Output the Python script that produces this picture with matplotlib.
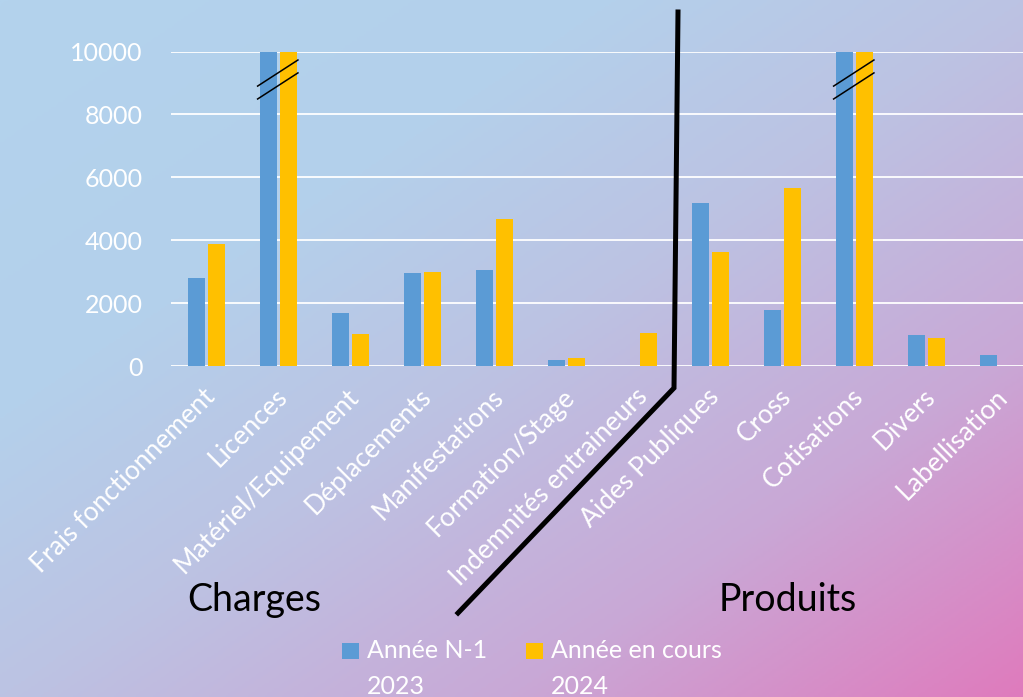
import numpy as np
import matplotlib
matplotlib.use("Agg")
import matplotlib.pyplot as plt
import matplotlib.transforms as mtransforms
from matplotlib.colors import LinearSegmentedColormap
from matplotlib.lines import Line2D
from matplotlib.patches import Rectangle

plt.rcParams['font.family'] = ['Lato', 'DejaVu Sans']

categories = ["Frais fonctionnement", "Licences", "Matériel/Equipement", "Déplacements",
              "Manifestations", "Formation/Stage", "Indemnités entraineurs",
              "Aides Publiques", "Cross", "Cotisations", "Divers", "Labellisation"]
annee_n1 = [2800, 10000, 1670, 2950, 3040, 190, 0, 5190, 1780, 10000, 975, 340]
annee_cours = [3870, 10000, 1020, 3000, 4680, 265, 1060, 3630, 5670, 10000, 890, 0]
yticks = [0, 2000, 4000, 6000, 8000, 10000]
broken = [1, 9]  # bars cut at the top of the axis

fig = plt.figure(figsize=(10.23, 6.97), dpi=100)

# gradient background
bg = fig.add_axes([0, 0, 1, 1], zorder=-10)
bg.axis("off")
H, W = 300, 440
yy, xx = np.mgrid[0:H, 0:W]
t = 0.5 * xx / (W - 1) + 0.5 * yy / (H - 1)
cmap = LinearSegmentedColormap.from_list(
    "bg", [(0, "#b3d3ed"), (0.3, "#b4d0eb"), (0.5, "#bcc3e3"),
           (0.75, "#c9a8d6"), (1.0, "#df7bbd")])
bg.imshow(t, cmap=cmap, aspect="auto", extent=[0, 1, 0, 1], vmin=0, vmax=1)
bg.set_xlim(0, 1)
bg.set_ylim(0, 1)

# main axes (right edge runs past the figure, as in the source)
ax = fig.add_axes([170.5 / 1023, (697 - 366) / 697, 864 / 1023, 314.5 / 697])
ax.patch.set_alpha(0)
x = np.arange(len(categories))
w = 0.24
ax.bar(x - 0.143, annee_n1, w, color="#5b9bd5", zorder=3)
ax.bar(x + 0.143, annee_cours, w, color="#ffc000", zorder=3)

ax.set_xlim(-0.5, len(categories) - 0.5)
ax.set_ylim(0, 10000)
ax.set_yticks(yticks)
ax.set_yticklabels([str(v) for v in yticks], color="white", fontsize=18)
ax.yaxis.grid(True, color="white", lw=1.3, zorder=0)
ax.set_xticks(x)
ax.set_xticklabels(categories, rotation=45, ha="right", rotation_mode="anchor",
                   color="white", fontsize=19)
ax.tick_params(axis="both", length=0)
ax.tick_params(axis="x", pad=13)
ax.tick_params(axis="y", pad=20)
shift = mtransforms.ScaledTranslation(-4 / 100, 0, fig.dpi_scale_trans)
for lab in ax.get_xticklabels():
    lab.set_transform(lab.get_transform() + shift)
for s in ax.spines.values():
    s.set_visible(False)

# break marks on the cut bars
for b in broken:
    for y0, y1 in [(8900, 9730), (8490, 9320)]:
        ax.plot([b - 0.29, b + 0.27], [y0, y1], color="black", lw=1.1, zorder=5,
                clip_on=False)

# separator line between Charges and Produits
px = lambda X, Y: (X / 1023, 1 - Y / 697)
sep_x = [px(678, 12)[0], px(674, 388)[0], px(458, 613)[0]]
sep_y = [px(678, 12)[1], px(674, 388)[1], px(458, 613)[1]]
fig.add_artist(Line2D(sep_x, sep_y, color="black", lw=3.6,
                      solid_joinstyle="miter", transform=fig.transFigure))

fig.text(254 / 1023, 1 - 600 / 697, "Charges", fontsize=27, color="black",
         ha="center", va="center")
fig.text(788 / 1023, 1 - 600 / 697, "Produits", fontsize=27, color="black",
         ha="center", va="center")

# legend
legend_items = [("#5b9bd5", "Année N-1\n2023", 342), ("#ffc000", "Année en cours\n2024", 526)]
for col, lab, lx in legend_items:
    fig.add_artist(Rectangle((lx / 1023, 1 - 659 / 697), 17 / 1023, 16 / 697,
                             facecolor=col, edgecolor="none", transform=fig.transFigure))
    fig.text((lx + 25) / 1023, 1 - 639 / 697, lab, fontsize=18, color="white",
             ha="left", va="top", linespacing=1.7)

fig.savefig("out.png", dpi=100)
